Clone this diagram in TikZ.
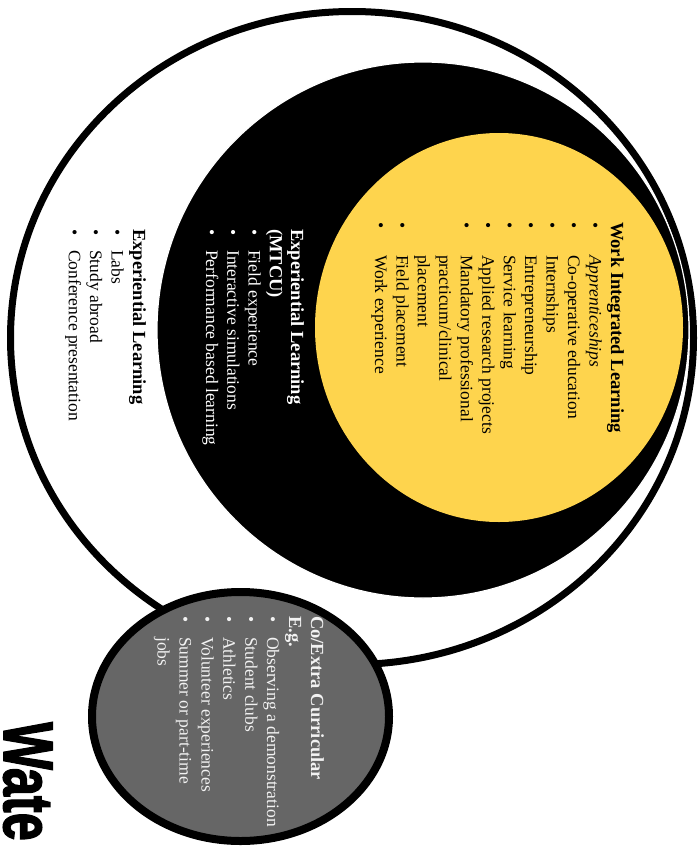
\documentclass[tikz,border=0pt]{standalone}
\usepackage{fontspec}
\setmainfont{Liberation Serif}
\newfontfamily\wfont[BoldFeatures={FakeBold=2.5}]{Liberation Sans}
\usepackage{graphicx}
\definecolor{wilyellow}{RGB}{254,212,77}
\definecolor{ccgray}{RGB}{102,102,102}
\definecolor{lighttxt}{RGB}{242,242,242}
\tikzset{
  txtblock/.style={rotate=-90, anchor=base west, inner sep=0pt},
  ring/.style={draw=black, line width=7pt, fill=white},
}
\newcommand{\ttl}[1]{{\fontsize{18.5}{21.4}\selectfont\bfseries #1}}
\newcommand{\itm}[2]{\makebox[#1][l]{\textbullet}#2}
\newcommand{\cnt}[2]{\makebox[#1][l]{}#2}
\begin{document}
\begin{tikzpicture}[x=1pt,y=-1pt]
\useasboundingbox (0,0) rectangle (697,846);
\clip (0,0) rectangle (697,846);
\fill[white] (0,0) rectangle (697,846);
% outer ellipse
\path[ring] (352,338) ellipse [x radius=341.5, y radius=326.5];
% black ellipse
\path[fill=black, draw=white, line width=1.2pt] (423,330) ellipse [x radius=266, y radius=268];
% yellow ellipse
\fill[wilyellow] (499,327.5) ellipse [x radius=184, y radius=194.5];
% gray circle
\path[draw=black, line width=8pt, fill=ccgray] (240.5,716.5) ellipse [x radius=148.5, y radius=124.5];

\node[txtblock, font=\fontsize{17.5}{21.45}\selectfont, text=black] (wil) at (611,222) {%
\begin{tabular}[t]{@{}l@{}}
\ttl{Work Integrated Learning}\\
\itm{33pt}{\textit{Apprenticeships}}\\
\itm{33pt}{Co-operative education}\\
\itm{33pt}{Internships}\\
\itm{33pt}{Entrepreneurship}\\
\itm{33pt}{Service learning}\\
\itm{33pt}{Applied research projects}\\
\itm{33pt}{Mandatory professional}\\
\cnt{33pt}{practicum/clinical}\\
\cnt{33pt}{placement}\\
\itm{33pt}{Field placement}\\
\itm{33pt}{Work experience}
\end{tabular}};

\node[txtblock, font=\fontsize{17.5}{21.25}\selectfont, text=white] (mtcu) at (291,229) {%
\begin{tabular}[t]{@{}l@{}}
\ttl{Experiential Learning}\\
\ttl{(MTCU)}\\
\itm{21pt}{Field experience}\\
\itm{21pt}{Interactive simulations}\\
\itm{21pt}{Performance based learning}
\end{tabular}};

\node[txtblock, font=\fontsize{17.5}{21.4}\selectfont, text=black] (exp) at (133,229) {%
\begin{tabular}[t]{@{}l@{}}
\ttl{Experiential Learning}\\
\itm{21pt}{Labs}\\
\itm{21pt}{Study abroad}\\
\itm{21pt}{Conference presentation}
\end{tabular}};

\node[txtblock, font=\fontsize{17.5}{21.9}\selectfont, text=lighttxt] (cocur) at (311,616) {%
\begin{tabular}[t]{@{}l@{}}
\ttl{Co/Extra Curricular}\\
\ttl{E.g.}\\
\itm{21pt}{Observing a demonstration}\\
\itm{21pt}{Student clubs}\\
\itm{21pt}{Athletics}\\
\itm{21pt}{Volunteer experiences}\\
\itm{21pt}{Summer or part-time}\\
\cnt{21pt}{jobs}
\end{tabular}};

\node[txtblock] (wate) at (4,722) {\scalebox{0.72}[1]{\wfont\fontsize{70}{70}\selectfont\bfseries Wate}};
\end{tikzpicture}
\end{document}
